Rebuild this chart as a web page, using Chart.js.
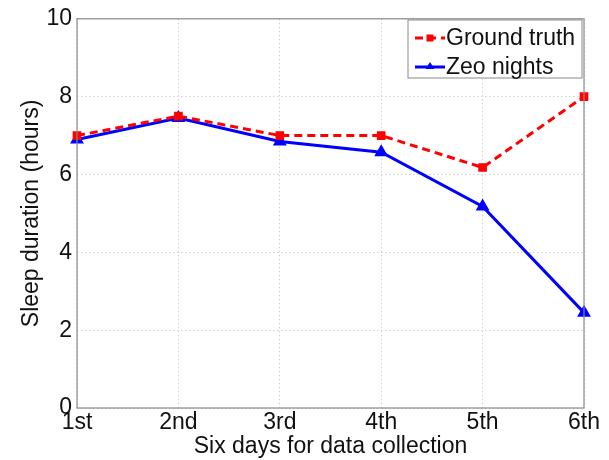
<!DOCTYPE html>
<html>
<head>
<meta charset="utf-8">
<script src="https://cdn.jsdelivr.net/npm/chart.js@4"></script>
<style>
  html, body { margin: 0; padding: 0; background: #fff; }
  #wrap { width: 609px; height: 460px; }
</style>
</head>
<body>
<div id="wrap"><canvas id="sleepChart" width="609" height="460"></canvas></div>
<script>
// Data
const days = ['1st', '2nd', '3rd', '4th', '5th', '6th'];
const groundTruth = [7.0, 7.5, 7.0, 7.0, 6.18, 8.0];
const zeoNights = [6.9, 7.45, 6.85, 6.57, 5.18, 2.45];
const yTicks = [0, 2, 4, 6, 8, 10];

const FONT = 'Liberation Sans, Arial, Helvetica, sans-serif';

// Box around the plot plus a legend drawn inside the top right corner
const framePlugin = {
    id: 'frame',
    afterDraw(chart) {
        const { ctx, chartArea: a } = chart;
        ctx.save();
        ctx.strokeStyle = '#8a8a8a';
        ctx.lineWidth = 1.2;
        ctx.strokeRect(a.left, a.top, a.right - a.left, a.bottom - a.top);

        // legend
        const bx = 408, by = 20, bw = 174, bh = 58;
        ctx.fillStyle = '#fff';
        ctx.fillRect(bx, by, bw, bh);
        ctx.strokeStyle = '#8a8a8a';
        ctx.lineWidth = 1;
        ctx.strokeRect(bx, by, bw, bh);
        ctx.font = '23px ' + FONT;
        ctx.textBaseline = 'middle';
        chart.data.datasets.forEach((ds, i) => {
            const y = by + 18 + i * 29;
            ctx.strokeStyle = ds.borderColor;
            ctx.lineWidth = 3;
            ctx.setLineDash(ds.borderDash || []);
            ctx.beginPath();
            ctx.moveTo(bx + 7, y);
            ctx.lineTo(bx + 37, y);
            ctx.stroke();
            ctx.setLineDash([]);
            ctx.fillStyle = ds.borderColor;
            if (ds.pointStyle === 'rect') {
                ctx.fillRect(bx + 18.5, y - 3.5, 7, 7);
            } else {
                ctx.beginPath();
                ctx.moveTo(bx + 22, y - 5);
                ctx.lineTo(bx + 26.5, y + 2);
                ctx.lineTo(bx + 17.5, y + 2);
                ctx.closePath();
                ctx.fill();
            }
            ctx.fillStyle = '#111';
            ctx.fillText(ds.label, bx + 38, y + 1);
        });
        ctx.restore();
    }
};

new Chart(document.getElementById('sleepChart'), {
    type: 'line',
    data: {
        labels: days,
        datasets: [
            {
                label: 'Ground truth',
                data: groundTruth,
                borderColor: '#ff0000',
                backgroundColor: '#ff0000',
                borderWidth: 3,
                borderDash: [8, 5],
                pointStyle: 'rect',
                pointRadius: 4,
                tension: 0
            },
            {
                label: 'Zeo nights',
                data: zeoNights,
                borderColor: '#0000ff',
                backgroundColor: '#0000ff',
                borderWidth: 3,
                pointStyle: 'triangle',
                pointRadius: 5,
                tension: 0
            }
        ]
    },
    options: {
        responsive: false,
        animation: false,
        layout: { padding: { left: 0, right: 25, top: 17, bottom: 0 } },
        plugins: {
            legend: { display: false },
            tooltip: { enabled: false }
        },
        scales: {
            x: {
                type: 'category',
                offset: false,
                grid: {
                    color: '#cfcfcf',
                    lineWidth: 1,
                    drawTicks: false
                },
                border: { display: false, dash: [1.5, 2.5] },
                ticks: {
                    color: '#111',
                    font: { family: FONT, size: 23 },
                    padding: 1,
                    maxRotation: 0
                },
                title: {
                    display: true,
                    text: 'Six days for data collection',
                    color: '#111',
                    font: { family: FONT, size: 23 },
                    padding: { top: -4, bottom: 0 }
                },
                afterFit(scale) { scale.height = 52; }
            },
            y: {
                min: 0,
                max: 10,
                afterBuildTicks(scale) { scale.ticks = yTicks.map(v => ({ value: v })); },
                grid: {
                    color: '#cfcfcf',
                    lineWidth: 1,
                    drawTicks: false
                },
                border: { display: false, dash: [1.5, 2.5] },
                ticks: {
                    color: '#111',
                    font: { family: FONT, size: 23 },
                    padding: 5
                },
                title: {
                    display: true,
                    text: 'Sleep duration (hours)',
                    color: '#111',
                    font: { family: FONT, size: 23 },
                    padding: { top: 18, bottom: 0 }
                },
                afterFit(scale) { scale.width = 77; }
            }
        }
    },
    plugins: [framePlugin]
});
</script>
</body>
</html>
